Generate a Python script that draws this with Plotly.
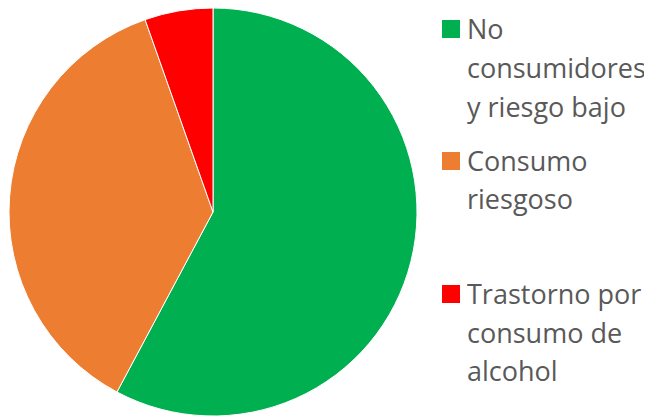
import plotly.graph_objects as go

labels = ["No consumidores y riesgo bajo", "Consumo riesgoso", "Trastorno por consumo de alcohol"]
values = [57.8, 36.8, 5.4]
colors = ["#00B050", "#ED7D31", "#FF0000"]
legend_lines = [
    ["No", "consumidores", "y riesgo bajo"],
    ["Consumo", "riesgoso"],
    ["Trastorno por", "consumo de", "alcohol"],
]

W, H = 652, 418
OFF = 8  # page body margin
r = 204
cx, cy = 213 - OFF, 212 - OFF

fig = go.Figure(go.Pie(
    labels=labels, values=values, sort=False, direction="clockwise", rotation=0,
    marker=dict(colors=colors, line=dict(color="white", width=1)),
    textinfo="none", hoverinfo="label+percent", showlegend=False,
    domain=dict(x=[(cx - r) / W, (cx + r) / W],
                y=[max(0, (H - cy - r) / H), min(1, (H - cy + r) / H)]),
))

baselines = [[38, 77, 116], [170, 208], [303, 342, 380]]
fs = 27
annotations = []
shapes = []
for lines, bls, col in zip(legend_lines, baselines, colors):
    shapes.append(dict(type="rect", xref="paper", yref="paper",
                       x0=(442 - OFF) / W, x1=(460 - OFF) / W,
                       y0=1 - (bls[0] - OFF) / H, y1=1 - (bls[0] - 18 - OFF) / H,
                       fillcolor=col, line=dict(width=0)))
    for txt, bl in zip(lines, bls):
        annotations.append(dict(text=txt, xref="paper", yref="paper",
                                x=(465 - OFF) / W, y=1 - (bl - 10 - OFF) / H,
                                xanchor="left", yanchor="middle",
                                showarrow=False, font=dict(family="Open Sans", size=fs, color="#595959")))

fig.update_layout(width=W, height=H, margin=dict(l=0, r=0, t=0, b=0),
                  paper_bgcolor="white", plot_bgcolor="white",
                  annotations=annotations, shapes=shapes)
fig.write_html("out.html")
